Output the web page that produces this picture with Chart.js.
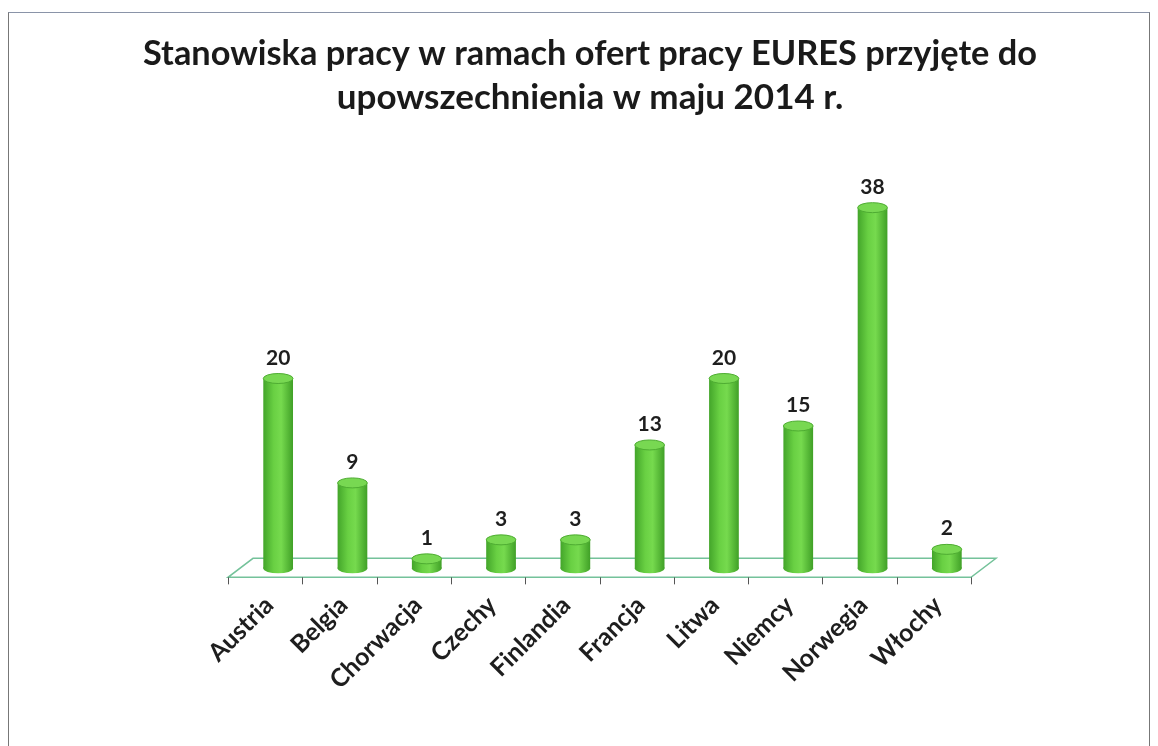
<!DOCTYPE html>
<html>
<head>
<meta charset="utf-8">
<script src="https://cdn.jsdelivr.net/npm/chart.js@4/dist/chart.umd.min.js"></script>
<style>
  body { margin: 0; background: #fff; }
  #wrap { position: relative; width: 1158px; height: 746px; overflow: hidden; }
  #frame { position: absolute; left: 8px; top: 12px; width: 1140px; height: 800px;
           border: 1px solid #777; border-top-color: #8a94a8; }
  canvas { position: absolute; left: 0; top: 0; }
</style>
</head>
<body>
<div id="wrap">
  <div id="frame"></div>
  <canvas id="eures" width="1158" height="746"></canvas>
</div>
<script>
const countries = ['Austria', 'Belgia', 'Chorwacja', 'Czechy', 'Finlandia', 'Francja', 'Litwa', 'Niemcy', 'Norwegia', 'Włochy'];
const jobs = [20, 9, 1, 3, 3, 13, 20, 15, 38, 2];
const titleLines = ['Stanowiska pracy w ramach ofert pracy EURES przyjęte do', 'upowszechnienia w maju 2014 r.'];

const BAR_PCT = 0.4;
const RY = 5; // ellipse half-height of the cylinder caps
const Y_MAX = 43;

function barGradient(ctx, x, w) {
    const g = ctx.createLinearGradient(x - w / 2, 0, x + w / 2, 0);
    g.addColorStop(0, '#43a52a');
    g.addColorStop(0.35, '#69d043');
    g.addColorStop(0.6, '#76da4e');
    g.addColorStop(1, '#40a027');
    return g;
}

// floor parallelogram + tick marks, cylinder caps and value labels
const cylinders = {
    id: 'cylinders',
    beforeDatasetsDraw(chart) {
        const { ctx, scales: { x, y } } = chart;
        const step = x.width / countries.length;
        const base = y.getPixelForValue(0);
        const fx0 = x.left - 13, fx1 = x.right - 13, fy = base + 9;
        const bx0 = x.left + 12, bx1 = x.right + 12, by = base - 10;
        ctx.save();
        ctx.strokeStyle = '#74c29a';
        ctx.lineWidth = 1.5;
        ctx.beginPath();
        ctx.moveTo(fx0, fy); ctx.lineTo(fx1, fy); ctx.lineTo(bx1, by);
        ctx.lineTo(bx0, by); ctx.closePath();
        ctx.stroke();
        ctx.strokeStyle = '#555';
        ctx.lineWidth = 1;
        for (let i = 0; i <= countries.length; i++) {
            const tx = Math.round(fx0 + i * step) + 0.5;
            ctx.beginPath(); ctx.moveTo(tx, fy); ctx.lineTo(tx, fy + 7); ctx.stroke();
        }
        chart.getDatasetMeta(0).data.forEach(bar => {
            const w = bar.width;
            ctx.fillStyle = barGradient(ctx, bar.x, w);
            ctx.beginPath();
            ctx.ellipse(bar.x, bar.base, w / 2, RY, 0, 0, Math.PI * 2);
            ctx.fill();
        });
        ctx.restore();
    },
    afterDatasetsDraw(chart) {
        const { ctx } = chart;
        ctx.save();
        chart.getDatasetMeta(0).data.forEach((bar, i) => {
            const w = bar.width;
            ctx.fillStyle = '#78d852';
            ctx.strokeStyle = '#4eac32';
            ctx.lineWidth = 1;
            ctx.beginPath();
            ctx.ellipse(bar.x, bar.y, w / 2, RY, 0, 0, Math.PI * 2);
            ctx.fill();
            ctx.stroke();
            ctx.fillStyle = '#1e1e1e';
            ctx.font = 'bold 21px Lato';
            ctx.textAlign = 'center';
            ctx.textBaseline = 'alphabetic';
            ctx.fillText(String(jobs[i]), bar.x, bar.y - 14);
        });
        ctx.restore();
    }
};

new Chart(document.getElementById('eures'), {
    type: 'bar',
    data: {
        labels: countries,
        datasets: [{
            data: jobs,
            barPercentage: BAR_PCT,
            categoryPercentage: 1,
            borderWidth: 0,
            backgroundColor: c => {
                const x = c.chart.scales.x;
                if (!x || !x.width) return '#5cc83a';
                const w = x.width / countries.length * BAR_PCT;
                return barGradient(c.chart.ctx, x.getPixelForValue(c.dataIndex), w);
            }
        }]
    },
    options: {
        responsive: false,
        animation: false,
        layout: { padding: { left: 143, right: 121, top: 0, bottom: 37 } },
        scales: {
            x: {
                grid: { display: false },
                border: { display: false },
                ticks: {
                    color: '#1e1e1e',
                    font: { family: 'Lato', weight: 'bold', size: 25 },
                    minRotation: 45, maxRotation: 45,
                    labelOffset: -9,
                    padding: 14
                }
            },
            y: {
                min: 0, max: Y_MAX,
                grid: { display: false },
                border: { display: false },
                ticks: { display: false },
                afterFit(scale) { scale.width = 98; }
            },
            y2: {
                position: 'right',
                min: 0, max: Y_MAX,
                grid: { display: false },
                border: { display: false },
                ticks: { display: false },
                afterFit(scale) { scale.width = 53; }
            }
        },
        plugins: {
            legend: { display: false },
            tooltip: { enabled: false },
            title: {
                display: true,
                text: titleLines,
                color: '#1a1a1a',
                font: { family: 'Lato', weight: 'bold', size: 35, lineHeight: 1.26 },
                padding: { top: 32, bottom: 40 }
            }
        }
    },
    plugins: [cylinders]
});
</script>
</body>
</html>
